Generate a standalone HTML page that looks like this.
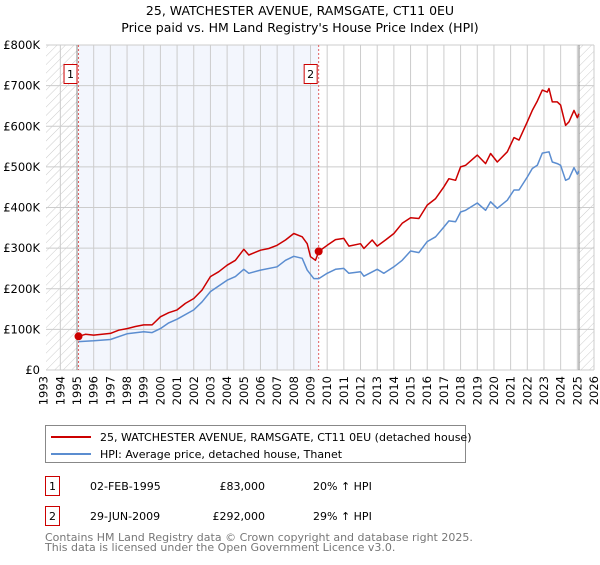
<!DOCTYPE html>
<html><head><meta charset="utf-8"><style>
body{margin:0;background:#fff;font-family:"Liberation Sans","DejaVu Sans",sans-serif;}
svg text{font-family:"DejaVu Sans","Liberation Sans",sans-serif;}
</style></head><body>
<svg id="c" width="600" height="560" viewBox="0 0 600 560" xmlns="http://www.w3.org/2000/svg">
<defs><pattern id="h" width="6" height="6" patternUnits="userSpaceOnUse" patternTransform="rotate(45)"><line x1="0" y1="0" x2="0" y2="6" stroke="#ccc" stroke-width="1"/></pattern></defs>
<text x="300" y="15" text-anchor="middle" font-size="12.5">25, WATCHESTER AVENUE, RAMSGATE, CT11 0EU</text>
<text x="300" y="32" text-anchor="middle" font-size="12.5">Price paid vs. HM Land Registry's House Price Index (HPI)</text>
<g id="plot"></g>
<g>
<rect x="45.5" y="425.5" width="420" height="37" fill="#fff" stroke="#888"/>
<line x1="51" y1="437" x2="91" y2="437" stroke="#cc0000" stroke-width="2"/>
<text x="100" y="441" font-size="11">25, WATCHESTER AVENUE, RAMSGATE, CT11 0EU (detached house)</text>
<line x1="51" y1="454" x2="91" y2="454" stroke="#5b8dd0" stroke-width="2"/>
<text x="100" y="458" font-size="11">HPI: Average price, detached house, Thanet</text>
</g>
<g font-size="11">
<rect x="45.5" y="476.5" width="14" height="19" fill="#fff" stroke="#cc0000"/><text x="52.5" y="490" text-anchor="middle">1</text>
<text x="90" y="490">02-FEB-1995</text><text x="265" y="490" text-anchor="end">£83,000</text><text x="313" y="490">20% ↑ HPI</text>
<rect x="45.5" y="506.5" width="14" height="19" fill="#fff" stroke="#cc0000"/><text x="52.5" y="520" text-anchor="middle">2</text>
<text x="90" y="520">29-JUN-2009</text><text x="265" y="520" text-anchor="end">£292,000</text><text x="313" y="520">29% ↑ HPI</text>
</g>
<text x="45" y="541" font-size="11" fill="#777">Contains HM Land Registry data © Crown copyright and database right 2025.</text>
<text x="45" y="551" font-size="11" fill="#777">This data is licensed under the Open Government Licence v3.0.</text>
</svg>
<script>
const yTicks=[0,100,200,300,400,500,600,700,800];
const yTickLabels=["£0","£100K","£200K","£300K","£400K","£500K","£600K","£700K","£800K"];
const years=[1993,1994,1995,1996,1997,1998,1999,2000,2001,2002,2003,2004,2005,2006,2007,2008,2009,2010,2011,2012,2013,2014,2015,2016,2017,2018,2019,2020,2021,2022,2023,2024,2025,2026];
const redT=[1995.1,1995.5,1996,1996.5,1997,1997.5,1998,1998.5,1999,1999.5,2000,2000.5,2001,2001.5,2002,2002.5,2003,2003.5,2004,2004.5,2005,2005.3,2006,2006.5,2007,2007.5,2008,2008.5,2008.8,2009,2009.3,2009.5,2010,2010.5,2011,2011.3,2012,2012.2,2012.7,2013,2013.5,2014,2014.5,2015,2015.5,2016,2016.5,2017,2017.3,2017.7,2018,2018.3,2019,2019.5,2019.8,2020.2,2020.8,2021.2,2021.5,2022,2022.3,2022.6,2022.9,2023.2,2023.3,2023.5,2023.8,2024,2024.3,2024.5,2024.8,2025,2025.1];
const redV=[83,88,86,88,90,98,102,107,111,111,131,141,148,164,176,197,230,242,258,270,297,283,295,299,307,320,336,328,311,279,270,292,307,321,324,305,311,299,320,305,320,336,361,375,373,406,422,451,471,467,500,504,529,508,533,512,537,572,566,611,639,662,689,684,693,660,660,652,602,611,639,621,631];
const blueT=[1995.1,1996,1997,1998,1999,1999.5,2000,2000.5,2001,2002,2002.5,2003,2004,2004.5,2005,2005.3,2006,2007,2007.5,2008,2008.5,2008.8,2009.2,2009.5,2010,2010.5,2011,2011.3,2012,2012.2,2013,2013.4,2014,2014.5,2015,2015.5,2016,2016.5,2017,2017.3,2017.7,2018,2018.3,2019,2019.5,2019.8,2020.2,2020.8,2021.2,2021.5,2022,2022.3,2022.6,2022.9,2023.3,2023.5,2023.8,2024,2024.3,2024.5,2024.8,2025,2025.1];
const blueV=[70,72,75,89,94,92,102,116,125,148,168,193,221,230,248,238,246,254,270,280,275,246,225,225,238,248,250,238,242,231,248,238,254,270,293,289,316,328,352,367,365,389,393,411,393,414,398,418,443,443,475,496,504,534,537,512,508,504,467,471,498,482,490];
const saleT=[1995.09,2009.49];
const saleV=[83,292];
const saleLabels=["1","2"];
const L=46,R=594,T=45,B=370,x0=1993.14,x1=2026;
const X=t=>L+(t-x0)/(x1-x0)*(R-L);
const Y=v=>B-v/800*(B-T);
const NS="http://www.w3.org/2000/svg";
const g=document.getElementById('plot');
function el(n,a,p){const e=document.createElementNS(NS,n);for(const k in a)e.setAttribute(k,a[k]);(p||g).appendChild(e);return e;}
let e;
e=el('rect',{x:L,y:T,width:R-L,height:B-T,fill:'#fff'});
e=el('rect',{x:X(saleT[0]),y:T,width:X(saleT[1])-X(saleT[0]),height:B-T,fill:'#f0f4fd',opacity:0.8});


e=el('rect',{x:L,y:T,width:X(1995)-L,height:B-T,fill:'url(#h)'});


e=el('rect',{x:X(2025.1),y:T,width:R-X(2025.1),height:B-T,fill:'url(#h)'});


years.forEach(yr=>{const x=X(yr);if(x>=L-0.5){e=el('line',{x1:x,x2:x,y1:T,y2:B,stroke:'#ccc','stroke-width':1});}
 e=el('text',{x:0,y:0,'font-size':11.5,'text-anchor':'end',transform:`translate(${x+4},${B+6}) rotate(-90)`});e.textContent=yr;
 
 });
yTicks.forEach((v,i)=>{const y=Y(v);e=el('line',{x1:L,x2:R,y1:y,y2:y,stroke:'#ccc','stroke-width':1});
 e=el('text',{x:L-6,y:y+4,'font-size':11.5,'text-anchor':'end'});e.textContent=yTickLabels[i];
 
 });
e=el('line',{x1:X(1995),x2:X(1995),y1:T,y2:B,stroke:'#888'});
e=el('line',{x1:X(2025.1),x2:X(2025.1),y1:T,y2:B,stroke:'#888'});
saleT.forEach((t,i)=>{e=el('line',{x1:X(t),x2:X(t),y1:T,y2:B,stroke:'#e06060','stroke-dasharray':'2,2'});});
function line(ts,vs,col,name){e=el('polyline',{points:ts.map((t,i)=>X(t).toFixed(1)+','+Y(vs[i]).toFixed(1)).join(' '),fill:'none',stroke:col,'stroke-width':1.5,'stroke-linejoin':'round'});
 
 }
line(blueT,blueV,'#5b8dd0','hpi-line');
line(redT,redV,'#cc0000','price-line');
saleT.forEach((t,i)=>{e=el('circle',{cx:X(t),cy:Y(saleV[i]),r:4,fill:'#cc0000'});
 
 
 const bx=X(t)-14;
 e=el('rect',{x:bx-0.5,y:64.5,width:13,height:19,fill:'#fff',stroke:'#cc0000'});
 
 
 e=el('text',{x:bx+6,y:78,'font-size':11,'text-anchor':'middle'});e.textContent=saleLabels[i];});
</script>
</body></html>
